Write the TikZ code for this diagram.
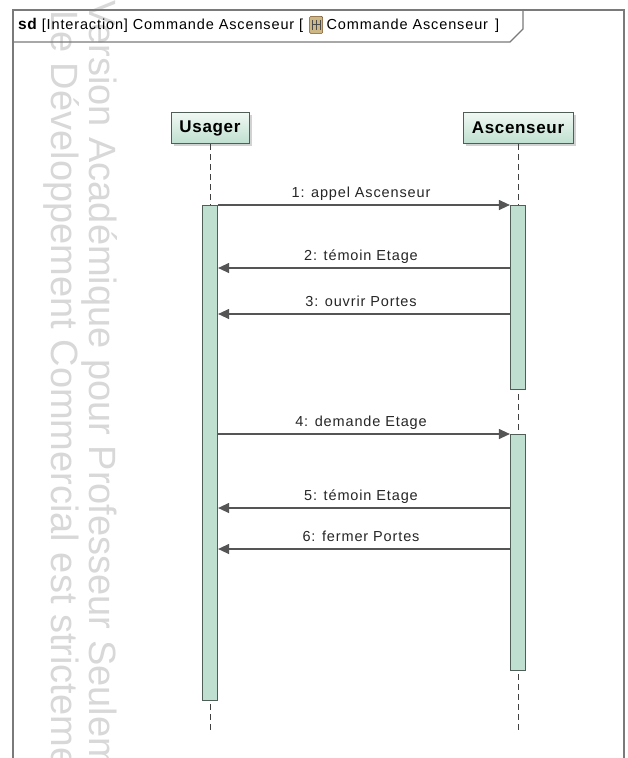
\documentclass[tikz,border=0pt]{standalone}
\usepackage{fontspec}
\setmainfont{Liberation Sans}[LetterSpace=6,BoldFeatures={LetterSpace=4}]
\newfontfamily\markfont{Liberation Sans}
\usepackage{tikz}
\usetikzlibrary{arrows.meta}
\usetikzlibrary{calc}
\usetikzlibrary{positioning}
\usetikzlibrary{shadows}

\definecolor{lifegreen}{HTML}{BFE0D0}
\definecolor{headtop}{HTML}{F0F8F4}
\definecolor{edgegray}{HTML}{4F5F57}
\definecolor{msggray}{HTML}{555555}
\definecolor{framegray}{HTML}{7A7A7A}
\definecolor{markgray}{HTML}{D8D8D8}
\definecolor{icontan}{HTML}{CDB784}

\begin{document}
\begin{tikzpicture}[
		x=1pt,
		y=1pt,
		font=\fontsize{14.5pt}{16pt}\selectfont,
		>={Triangle[length=11pt,width=10pt]},
	]
		\tikzset{lifehead/.style={
			draw=edgegray,
			rectangle,
			line width=1pt,
			minimum height=31pt,
			top color=headtop,
			bottom color=lifegreen,
			drop shadow={shadow xshift=2.5pt, shadow yshift=-2.5pt, fill=gray!70, opacity=0.5},
			font=\fontsize{17pt}{18pt}\selectfont\bfseries,
		}}
		\tikzset{activation/.style={
			draw=edgegray,
			fill=lifegreen,
			rectangle,
			line width=1.2pt,
			minimum width=15pt,
			inner sep=0pt,
		}}
		\tikzset{lifeline/.style={
			draw=black!75,
			line width=1pt,
			dash pattern=on 6pt off 4pt,
		}}
		\tikzset{msg/.style={
			draw=msggray,
			line width=1.2pt,
			->,
		}}
		\tikzset{msglabel/.style={
			midway,
			anchor=base,
			yshift=8pt,
			xshift=-3pt,
			inner sep=0pt,
			text=black!85,
		}}
		\tikzset{watermark/.style={
			font=\markfont\fontsize{38pt}{40pt}\selectfont,
			text=markgray,
			inner sep=0pt,
			anchor=base west,
			rotate=-90,
		}}
		\tikzset{frame/.style={
			draw=framegray,
			line width=1.3pt,
		}}

		\path[fill=white, use as bounding box] (0,0) rectangle (628,-758);

		% watermark
		\begin{scope}
			\clip (0,0) rectangle (628,-758);
			\node[watermark] (mark1) at (89,0) {Version Académique pour Professeur Seulement};
			\node[watermark] (mark2) at (51,-10) {Le Développement Commercial est strictement};
		\end{scope}

		% frame and title tab
		\draw[frame] (13,-770) -- (13,-10) -- (624,-10) -- (624,-770);
		\draw[frame] (13,-42) -- (510,-42) -- (523,-29) -- (523,-10);

		\node[anchor=base west, inner sep=0pt] (title) at (18,-29) {{\fontsize{15.5pt}{16pt}\selectfont\bfseries sd} [Interaction] Commande Ascenseur [};
		\node[
			draw=brown!60!black,
			fill=icontan,
			rounded corners=1pt,
			minimum width=13pt,
			minimum height=17pt,
			inner sep=0pt,
			anchor=west,
		] (icon) at ($(title.east)+(6,0)$) {};
		\draw[black!70, line width=0.7pt] ($(icon.center)+(-4,5)$) -- ($(icon.center)+(-4,-5)$);
		\draw[black!70, line width=0.7pt] ($(icon.center)+(0,5)$) -- ($(icon.center)+(0,-5)$);
		\draw[black!70, line width=0.7pt] ($(icon.center)+(4,5)$) -- ($(icon.center)+(4,-5)$);
		\draw[black!70, line width=0.7pt] ($(icon.center)+(-4,1)$) -- ($(icon.center)+(4,1)$);
		\node[anchor=base west, inner sep=0pt] (title2) at ($(title.base east)+(23,0)$) {Commande Ascenseur\hspace{7pt}]};

		% lifelines
		\node[lifehead, minimum width=78pt] (usager) at (210,-128) {Usager};
		\node[lifehead, minimum width=110pt] (ascenseur) at (518,-128) {Ascenseur};

		\coordinate (endU) at (210,-733);
		\coordinate (endA) at (518,-733);
		\draw[lifeline] (usager) -- (endU);
		\draw[lifeline] (ascenseur) -- (endA);

		\node[activation, minimum height=495pt, anchor=north] (actU) at (210,-205) {};
		\node[activation, minimum height=184pt, anchor=north] (actA1) at (518,-205) {};
		\node[activation, minimum height=236pt, anchor=north] (actA2) at (518,-434) {};

		% messages
		\coordinate (m2) at ($(actA1.north west)+(0,-63)$);
		\coordinate (m3) at ($(actA1.north west)+(0,-109)$);
		\coordinate (m5) at ($(actA2.north west)+(0,-74)$);
		\coordinate (m6) at ($(actA2.north west)+(0,-115)$);

		\draw[msg] (actU.north east) -- (actA1.north west) node[msglabel] {1: appel Ascenseur};
		\draw[msg] (m2) -- (m2 -| actU.east) node[msglabel] {2: témoin Etage};
		\draw[msg] (m3) -- (m3 -| actU.east) node[msglabel] {3: ouvrir Portes};
		\draw[msg] (actU.east |- actA2.north) -- (actA2.north west) node[msglabel] {4: demande Etage};
		\draw[msg] (m5) -- (m5 -| actU.east) node[msglabel] {5: témoin Etage};
		\draw[msg] (m6) -- (m6 -| actU.east) node[msglabel] {6: fermer Portes};
	\end{tikzpicture}
\end{document}
